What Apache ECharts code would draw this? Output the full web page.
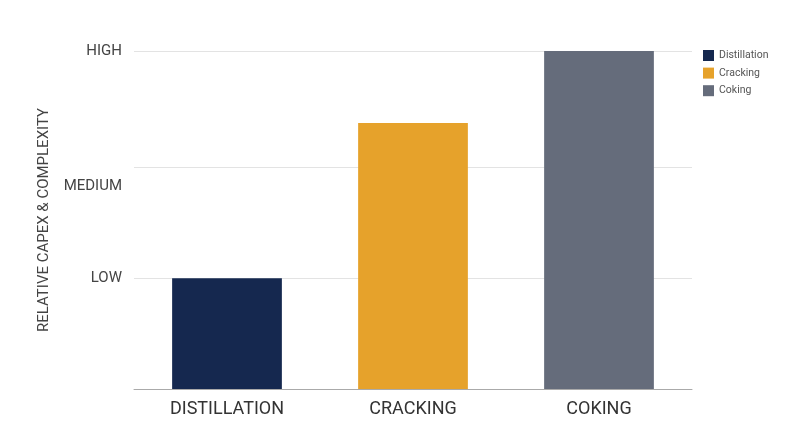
<!DOCTYPE html>
<html><head><meta charset="utf-8">
<script src="https://cdn.jsdelivr.net/npm/echarts@6/dist/echarts.min.js"></script>
<style>html,body{margin:0;padding:0;background:#fff}#c{width:800px;height:447px}</style>
</head><body><div id="c"></div>
<script>
const categories = ['DISTILLATION', 'CRACKING', 'COKING'];
const seriesNames = ['Distillation', 'Cracking', 'Coking'];
const values = [1, 2.4, 3.05];
const colors = ['#15284f', '#e6a22b', '#656c7b'];
const tickValues = [1, 1.83, 3.05];
const tickLabels = ['LOW', 'MEDIUM', 'HIGH'];
const gridValues = [1, 2, 3.05];
const axisMax = 3.05;

const chart = echarts.init(document.getElementById('c'));
const series = seriesNames.map((name, i) => ({
  name,
  type: 'bar',
  stack: 'all',
  barWidth: '59%',
  itemStyle: { color: colors[i] },
  data: categories.map((c, j) => (j === i ? values[i] : '-')),
  z: 3
}));
series.push({
  name: 'grid',
  type: 'line',
  data: [],
  z: 1,
  silent: true,
  markLine: {
    z: 1,
    silent: true,
    symbol: 'none',
    label: { show: false },
    lineStyle: { color: '#e3e3e3', type: 'solid', width: 1 },
    emphasis: { disabled: true },
    data: gridValues.map(v => ({ yAxis: v }))
  }
});

chart.setOption({
  animation: false,
  textStyle: { fontFamily: 'Roboto' },
  legend: {
    orient: 'vertical',
    left: 698,
    top: 45,
    itemWidth: 11,
    itemHeight: 11,
    itemGap: 6.6,
    icon: 'rect',
    textStyle: { fontSize: 10.5, color: '#555', fontFamily: 'Roboto' },
    data: seriesNames
  },
  grid: { left: 134, right: 108, top: 51, bottom: 58, containLabel: false },
  xAxis: {
    type: 'category',
    data: categories,
    z: 4,
    axisLine: { lineStyle: { color: '#aaaaaa' } },
    axisTick: { show: false },
    axisLabel: { fontSize: 18, color: '#333', margin: 11, fontFamily: 'Roboto' }
  },
  yAxis: {
    type: 'value',
    min: 0,
    max: axisMax,
    interval: 0.01,
    name: 'RELATIVE CAPEX & COMPLEXITY',
    nameLocation: 'middle',
    nameGap: 82,
    nameTextStyle: { fontSize: 15, color: '#444', fontFamily: 'Roboto' },
    axisLine: { show: false },
    axisTick: { show: false },
    splitLine: { show: false },
    axisLabel: {
      fontSize: 15,
      color: '#444',
      margin: 12,
      fontFamily: 'Roboto',
      formatter: v => {
        for (let k = 0; k < tickValues.length; k++) {
          if (Math.abs(v - tickValues[k]) < 1e-6) return tickLabels[k];
        }
        return '';
      }
    }
  },
  series
});
</script></body></html>
